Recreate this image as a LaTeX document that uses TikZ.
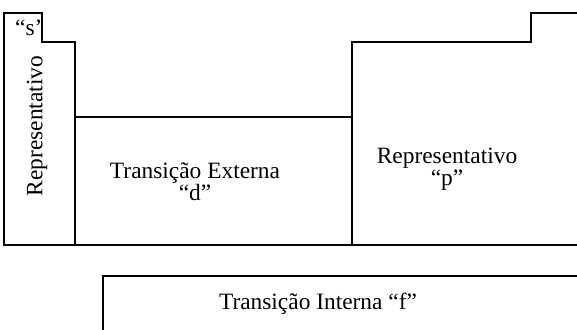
\documentclass[tikz,border=0pt]{standalone}
\usepackage{fontspec}
\setmainfont{Liberation Serif}
\usetikzlibrary{positioning}

\begin{document}
\begin{tikzpicture}[x=1pt,y=-1pt,
		% traço das caixas
		borda/.style={
			draw=black,
			line width=2.7pt
		},
		% texto dos blocos
		rotulo/.style={
			font=\fontsize{23.4}{22}\selectfont,
			align=center,
			inner sep=0pt
		}
		]
		\clip (0,0) rectangle (577,329);
		
		% contorno da tabela
		\draw[borda] (585,245) -- (4,245) -- (4,13) -- (42,13) -- (42,42) -- (75,42) -- (75,117)
			-- (352,117) -- (352,42) -- (531,42) -- (531,13) -- (585,13);
		\draw[borda] (75,117) -- (75,245);
		\draw[borda] (352,117) -- (352,245);
		
		% bloco f
		\draw[borda] (585,276) -- (103,276) -- (103,340);
		
		% textos
		\node[rotulo, rotate=90] (repS) at (37,126) {Representativo};
		\node[rotulo, anchor=base west] (s) at (15,35) {“s’};
		\node[rotulo] (trExt) at (195,182) {Transição Externa\\“d”};
		\node[rotulo] (repP) at (447,169) {Representativo\\“p”};
		\node[rotulo, anchor=base] (trInt) at (318,309) {Transição Interna “f”};
		
	\end{tikzpicture}
\end{document}
